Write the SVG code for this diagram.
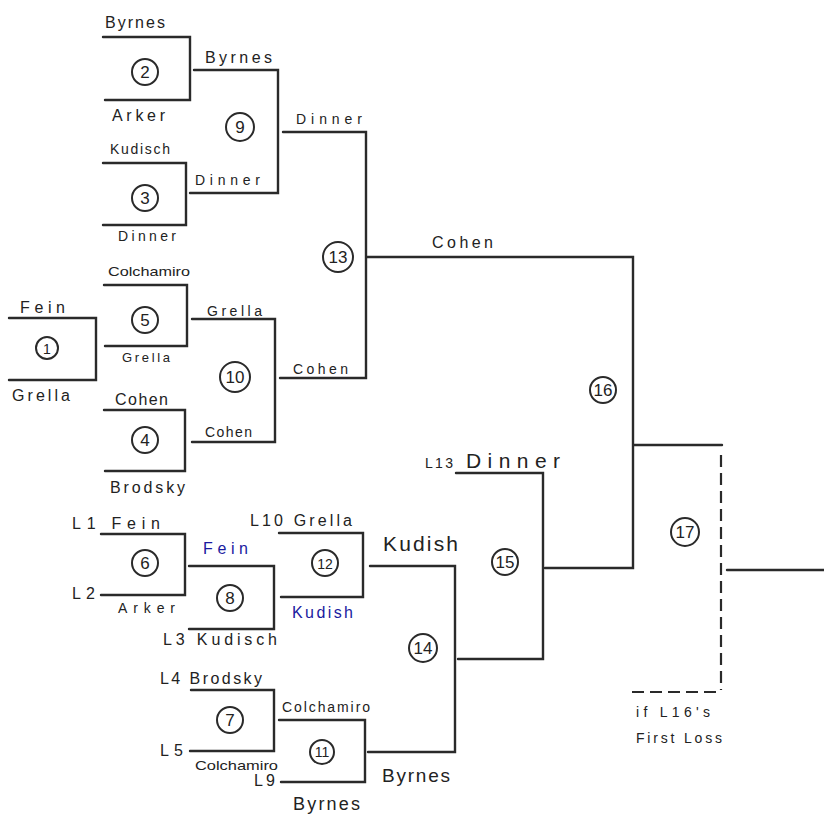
<svg xmlns="http://www.w3.org/2000/svg" width="824" height="820" viewBox="0 0 824 820">
<style>
.ln{stroke:#2a2a2a;stroke-width:2.4;fill:none;stroke-linecap:round}
.ds{stroke:#2a2a2a;stroke-width:2.2;fill:none;stroke-dasharray:12 6}
.c{stroke:#2a2a2a;stroke-width:2;fill:none}
.t{font-family:"Liberation Sans",Arial,sans-serif;font-size:16px;fill:#222}
.s{font-size:14px}
.n{font-family:"Liberation Sans",Arial,sans-serif;font-size:17px;fill:#222;text-anchor:middle}
.b{fill:#1a1aa0}
.L{font-size:21px}
</style>
<rect width="824" height="820" fill="#ffffff"/>
<g id="m2">
<path class="ln" d="M103 37H190V100H105"/>
<circle class="c" cx="145" cy="72" r="13"/><text class="n" x="145" y="78">2</text>
<text class="t" x="105" y="28" textLength="60" lengthAdjust="spacing">Byrnes</text>
<text class="t" x="112" y="121" textLength="53" lengthAdjust="spacing">Arker</text>
</g>
<g id="m3">
<path class="ln" d="M103 163H186V225H103"/>
<circle class="c" cx="145" cy="198" r="13"/><text class="n" x="145" y="204">3</text>
<text class="t s" x="110" y="154" textLength="60" lengthAdjust="spacing">Kudisch</text>
<text class="t s" x="118" y="241" textLength="58" lengthAdjust="spacing">Dinner</text>
</g>
<g id="m1">
<path class="ln" d="M9 318H96V380H9"/>
<circle class="c" cx="47" cy="348" r="11"/><text class="n" x="47" y="354" style="font-size:14px">1</text>
<text class="t" x="20" y="313" textLength="45" lengthAdjust="spacing">Fein</text>
<text class="t" x="12" y="401" textLength="58" lengthAdjust="spacing">Grella</text>
</g>
<g id="m5">
<path class="ln" d="M104 285H187V346H105"/>
<circle class="c" cx="145" cy="320" r="13"/><text class="n" x="145" y="326">5</text>
<text class="t" x="108" y="276" style="font-size:13px" textLength="82" lengthAdjust="spacingAndGlyphs">Colchamiro</text>
<text class="t" x="122" y="362" style="font-size:13px" textLength="48" lengthAdjust="spacing">Grella</text>
</g>
<g id="m4">
<path class="ln" d="M104 410H185V471H105"/>
<circle class="c" cx="145" cy="440" r="13"/><text class="n" x="145" y="446">4</text>
<text class="t" x="115" y="405" textLength="53" lengthAdjust="spacing">Cohen</text>
<text class="t" x="110" y="493" textLength="75" lengthAdjust="spacing">Brodsky</text>
</g>
<g id="m9">
<path class="ln" d="M194 70H278V193H190"/>
<circle class="c" cx="240" cy="127" r="14"/><text class="n" x="240" y="133">9</text>
<text class="t" x="205" y="63" textLength="67" lengthAdjust="spacing">Byrnes</text>
<text class="t s" x="195" y="185" textLength="65" lengthAdjust="spacing">Dinner</text>
</g>
<g id="m10">
<path class="ln" d="M192 319H275V442H192"/>
<circle class="c" cx="235" cy="377" r="15"/><text class="n" x="235" y="383">10</text>
<text class="t s" x="207" y="316" textLength="55" lengthAdjust="spacing">Grella</text>
<text class="t s" x="205" y="437" textLength="47" lengthAdjust="spacing">Cohen</text>
</g>
<g id="m13">
<path class="ln" d="M283 132H366V378H280"/>
<circle class="c" cx="338" cy="257" r="15"/><text class="n" x="338" y="263">13</text>
<text class="t s" x="296" y="124" textLength="66" lengthAdjust="spacing">Dinner</text>
<text class="t s" x="293" y="374" textLength="55" lengthAdjust="spacing">Cohen</text>
</g>
<g id="m6">
<path class="ln" d="M101 534H185V595H101"/>
<circle class="c" cx="145" cy="563" r="13"/><text class="n" x="145" y="569">6</text>
<text class="t" x="72" y="529" textLength="88" lengthAdjust="spacing">L1 Fein</text>
<text class="t" x="72" y="599" textLength="23" lengthAdjust="spacing">L2</text>
<text class="t s" x="118" y="613" textLength="57" lengthAdjust="spacing">Arker</text>
</g>
<g id="m8">
<path class="ln" d="M189 566H274V629H189"/>
<circle class="c" cx="230" cy="598" r="13"/><text class="n" x="230" y="604">8</text>
<text class="t b" x="203" y="554" textLength="45" lengthAdjust="spacing">Fein</text>
<text class="t" x="163" y="645" textLength="114" lengthAdjust="spacing">L3 Kudisch</text>
</g>
<g id="m12">
<path class="ln" d="M279 533H363V597H281"/>
<circle class="c" cx="325" cy="563" r="13"/><text class="n" x="325" y="569" style="font-size:14px">12</text>
<text class="t" x="250" y="526" textLength="102" lengthAdjust="spacing">L10 Grella</text>
<text class="t b" x="292" y="618" textLength="61" lengthAdjust="spacing">Kudish</text>
</g>
<g id="m7">
<path class="ln" d="M191 690H274V751H190"/>
<circle class="c" cx="230" cy="720" r="13"/><text class="n" x="230" y="726">7</text>
<text class="t" x="160" y="684" textLength="102" lengthAdjust="spacing">L4 Brodsky</text>
<text class="t" x="160" y="756" textLength="23" lengthAdjust="spacing">L5</text>
<text class="t" x="195" y="770" style="font-size:13px" textLength="83" lengthAdjust="spacingAndGlyphs">Colchamiro</text>
</g>
<g id="m11">
<path class="ln" d="M279 720H365V782H281"/>
<circle class="c" cx="322" cy="752" r="12"/><text class="n" x="322" y="757" style="font-size:14px">11</text>
<text class="t s" x="282" y="712" textLength="88" lengthAdjust="spacing">Colchamiro</text>
<text class="t" x="254" y="786" textLength="21" lengthAdjust="spacing">L9</text>
<text class="t" x="293" y="810" style="font-size:18px" textLength="67" lengthAdjust="spacing">Byrnes</text>
</g>
<g id="m14">
<path class="ln" d="M370 566H455V752H368"/>
<circle class="c" cx="423" cy="648" r="14"/><text class="n" x="423" y="654">14</text>
<text class="t L" x="383" y="551" textLength="75" lengthAdjust="spacing">Kudish</text>
<text class="t" x="382" y="782" style="font-size:19px" textLength="68" lengthAdjust="spacing">Byrnes</text>
</g>
<g id="m15">
<path class="ln" d="M456 473H543V659H458"/>
<circle class="c" cx="505" cy="562" r="13"/><text class="n" x="505" y="568">15</text>
<text class="t" x="425" y="468" style="font-size:14px" textLength="28" lengthAdjust="spacing">L13</text>
<text class="t L" x="466" y="468" textLength="94" lengthAdjust="spacing">Dinner</text>
</g>
<g id="m16">
<path class="ln" d="M367 257H633V568H545"/>
<circle class="c" cx="603" cy="390" r="13"/><text class="n" x="603" y="396">16</text>
<text class="t" x="432" y="248" textLength="61" lengthAdjust="spacing">Cohen</text>
</g>
<g id="m17">
<path class="ln" d="M634 445H722"/>
<path class="ds" d="M721 455V690"/>
<path class="ds" d="M632 692H720"/>
<circle class="c" cx="685" cy="532" r="14"/><text class="n" x="685" y="538">17</text>
<text class="t s" x="636" y="717" textLength="74" lengthAdjust="spacing">if L16's</text>
<text class="t s" x="636" y="743" textLength="86" lengthAdjust="spacing">First Loss</text>
</g>
<g id="connectors">
<path class="ln" d="M727 570H824"/>
</g>
</svg>
